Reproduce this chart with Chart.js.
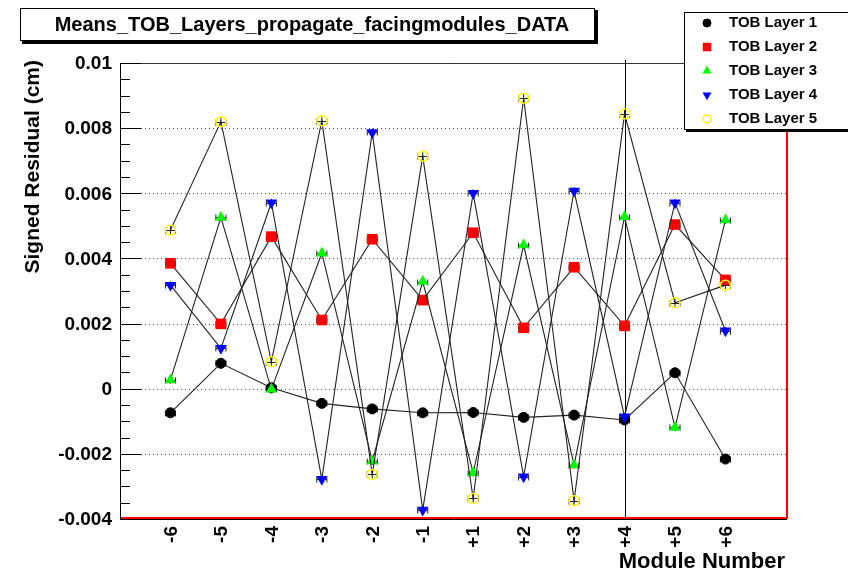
<!DOCTYPE html>
<html>
<head>
<meta charset="utf-8">
<script src="https://cdn.jsdelivr.net/npm/chart.js@4.4.1/dist/chart.umd.min.js"></script>
<style>
  html, body { margin: 0; padding: 0; background: #fff; }
  #wrap { width: 848px; height: 571px; }
</style>
</head>
<body>
<div id="wrap"><canvas id="myChart" width="848" height="571"></canvas></div>
<script>
// module labels along x
const modules = ['-6', '-5', '-4', '-3', '-2', '-1', '+1', '+2', '+3', '+4', '+5', '+6'];
const yTicks = [-0.004, -0.002, 0, 0.002, 0.004, 0.006, 0.008, 0.01];
const yTickLabels = ['-0.004', '-0.002', '0', '0.002', '0.004', '0.006', '0.008', '0.01'];

// means per layer
const layer1 = [-0.00074, 0.00078, 0.00003, -0.00045, -0.00062, -0.00074, -0.00073, -0.00088, -0.00081, -0.00096, 0.00049, -0.00216];
const layer2 = [0.00385, 0.00199, 0.00467, 0.00211, 0.00459, 0.00272, 0.00479, 0.00187, 0.00373, 0.00193, 0.00504, 0.00334];
const layer3 = [0.00027, 0.00526, -0.00002, 0.00416, -0.00222, 0.00329, -0.00258, 0.00441, -0.00234, 0.00528, -0.00119, 0.00518];
const layer4 = [0.00318, 0.00124, 0.00571, -0.00278, 0.00787, -0.00372, 0.00600, -0.00270, 0.00607, -0.00086, 0.00571, 0.00178];
const layer5 = [0.00487, 0.00820, 0.00083, 0.00823, -0.00263, 0.00714, -0.00337, 0.00892, -0.00344, 0.00844, 0.00264, 0.00318];

const layerNames = ['TOB Layer 1', 'TOB Layer 2', 'TOB Layer 3', 'TOB Layer 4', 'TOB Layer 5'];
const markerStyle = [
    { pointStyle: 'circle', rotation: 0, radius: 5, fill: '#000000', stroke: '#000000', bw: 1 },
    { pointStyle: 'rect', rotation: 0, radius: 7.5, fill: '#ff0000', stroke: '#ff0000', bw: 0 },
    { pointStyle: 'triangle', rotation: 0, radius: 6.5, fill: '#00ff00', stroke: '#00ff00', bw: 0 },
    { pointStyle: 'triangle', rotation: 180, radius: 6.5, fill: '#0000ff', stroke: '#0000ff', bw: 0 },
    { pointStyle: 'circle', rotation: 0, radius: 5, fill: 'rgba(0,0,0,0)', stroke: '#ffff00', bw: 1.5 }
];

const FONT = '"Liberation Sans", Arial, Helvetica, sans-serif';

function toPoints(arr) {
    return arr.map((v, i) => ({ x: i + 1, y: v }));
}

const allLayers = [layer1, layer2, layer3, layer4, layer5];
const datasets = allLayers.map((arr, k) => {
    const m = markerStyle[k];
    return {
        label: layerNames[k],
        data: toPoints(arr),
        borderColor: '#222222',
        borderWidth: 1.1,
        tension: 0,
        fill: false,
        pointStyle: m.pointStyle,
        pointRotation: m.rotation,
        pointRadius: m.radius,
        pointHoverRadius: m.radius,
        pointBackgroundColor: m.fill,
        pointBorderColor: m.stroke,
        pointBorderWidth: m.bw,
        order: 5 - k
    };
});

const rootPlugin = {
    id: 'rootStyle',
    beforeDraw(chart) {
        const ctx = chart.ctx;
        ctx.save();
        ctx.fillStyle = '#ffffff';
        ctx.fillRect(0, 0, chart.width, chart.height);
        ctx.restore();
    },
    beforeDatasetsDraw(chart) {
        const ctx = chart.ctx;
        const xs = chart.scales.x, ys = chart.scales.y;
        const a = chart.chartArea;
        ctx.save();
        // dotted grid
        ctx.strokeStyle = '#444';
        ctx.lineWidth = 1;
        ctx.setLineDash([1, 3]);
        yTicks.forEach(v => {
            if (v <= ys.min || v >= ys.max) return;
            const y = Math.round(ys.getPixelForValue(v)) + 0.5;
            ctx.beginPath();
            ctx.moveTo(a.left + 21, y);
            ctx.lineTo(a.right, y);
            ctx.stroke();
        });
        ctx.setLineDash([]);
        // vertical line at +4
        const x4 = Math.round(xs.getPixelForValue(10)) + 0.5;
        ctx.strokeStyle = '#000';
        ctx.beginPath();
        ctx.moveTo(x4, a.top - 3);
        ctx.lineTo(x4, a.bottom);
        ctx.stroke();
        // small error bars
        ctx.strokeStyle = '#222';
        allLayers.forEach(arr => {
            arr.forEach((v, i) => {
                const px = xs.getPixelForValue(i + 1);
                const py = Math.round(ys.getPixelForValue(v)) + 0.5;
                const x0 = xs.getPixelForValue(i + 1 - 0.1);
                const x1 = xs.getPixelForValue(i + 1 + 0.1);
                ctx.beginPath();
                ctx.moveTo(x0, py); ctx.lineTo(x1, py);
                ctx.moveTo(x0, py - 3); ctx.lineTo(x0, py + 3);
                ctx.moveTo(x1, py - 3); ctx.lineTo(x1, py + 3);
                ctx.moveTo(px, ys.getPixelForValue(v + 0.00012));
                ctx.lineTo(px, ys.getPixelForValue(v - 0.00012));
                ctx.stroke();
            });
        });
        ctx.restore();
    },
    afterDatasetsDraw(chart) {
        const ctx = chart.ctx;
        const xs = chart.scales.x, ys = chart.scales.y;
        const a = chart.chartArea;
        ctx.save();

        // frame: red bottom/right, black left/top
        ctx.lineWidth = 2;
        ctx.strokeStyle = '#ff0000';
        ctx.beginPath();
        ctx.moveTo(a.left, a.bottom - 1);
        ctx.lineTo(a.right, a.bottom - 1);
        ctx.lineTo(a.right, a.top);
        ctx.stroke();
        ctx.lineWidth = 1;
        ctx.strokeStyle = '#000';
        ctx.beginPath();
        ctx.moveTo(a.left, a.bottom + 0.5);
        ctx.lineTo(a.right, a.bottom + 0.5);
        ctx.stroke();
        ctx.strokeStyle = '#333';
        ctx.beginPath();
        ctx.moveTo(a.left, a.top + 0.5);
        ctx.lineTo(a.right, a.top + 0.5);
        ctx.stroke();
        ctx.strokeStyle = '#000';
        ctx.beginPath();
        ctx.moveTo(a.left + 0.5, a.top);
        ctx.lineTo(a.left + 0.5, a.bottom);
        ctx.stroke();

        // y ticks: major every 0.002, minor every 0.0005
        ctx.beginPath();
        for (let k = 0; k <= 28; k++) {
            const v = -0.004 + k * 0.0005;
            const y = Math.round(ys.getPixelForValue(v)) + 0.5;
            const len = (k % 4 === 0) ? 21 : 10;
            ctx.moveTo(a.left, y);
            ctx.lineTo(a.left + len, y);
        }
        ctx.stroke();

        // y tick labels
        ctx.fillStyle = '#000';
        ctx.font = 'bold 19px ' + FONT;
        ctx.textAlign = 'right';
        ctx.textBaseline = 'middle';
        yTicks.forEach((v, i) => {
            ctx.fillText(yTickLabels[i], 112, ys.getPixelForValue(v) + 1);
        });

        // x tick labels, rotated
        modules.forEach((lab, i) => {
            const x = xs.getPixelForValue(i + 1);
            ctx.save();
            ctx.translate(x + 1, 526);
            ctx.rotate(-Math.PI / 2);
            ctx.textAlign = 'right';
            ctx.textBaseline = 'middle';
            ctx.fillText(lab, 0, 0);
            ctx.restore();
        });

        // axis titles
        ctx.font = 'bold 22px ' + FONT;
        ctx.textAlign = 'right';
        ctx.textBaseline = 'alphabetic';
        ctx.fillText('Module Number', 785, 568);

        ctx.save();
        ctx.font = 'bold 21px ' + FONT;
        ctx.translate(39, 60);
        ctx.rotate(-Math.PI / 2);
        ctx.textAlign = 'right';
        ctx.textBaseline = 'alphabetic';
        ctx.fillText('Signed Residual (cm)', 0, 0);
        ctx.restore();

        // title box with shadow
        ctx.fillStyle = '#000';
        ctx.fillRect(22, 10, 576, 34);
        ctx.fillStyle = '#fff';
        ctx.fillRect(20, 8, 575, 33);
        ctx.strokeStyle = '#000';
        ctx.lineWidth = 1;
        ctx.strokeRect(20.5, 8.5, 574, 32);
        ctx.fillStyle = '#000';
        ctx.font = 'bold 20px ' + FONT;
        ctx.textAlign = 'center';
        ctx.textBaseline = 'middle';
        ctx.fillText('Means_TOB_Layers_propagate_facingmodules_DATA', 312, 25);

        // legend box
        ctx.fillStyle = '#000';
        ctx.fillRect(686, 14, 170, 118);
        ctx.fillStyle = '#fff';
        ctx.fillRect(684, 12, 170, 118);
        ctx.strokeStyle = '#000';
        ctx.strokeRect(684.5, 12.5, 170, 117);
        layerNames.forEach((name, k) => {
            const m = markerStyle[k];
            const y = 23 + k * 24;
            ctx.save();
            ctx.fillStyle = m.fill;
            ctx.strokeStyle = m.stroke;
            ctx.lineWidth = m.bw;
            Chart.helpers.drawPoint(ctx, {
                pointStyle: m.pointStyle,
                rotation: m.rotation,
                radius: m.radius * 0.8,
                borderWidth: m.bw
            }, 707, y);
            ctx.restore();
            ctx.fillStyle = '#000';
            ctx.font = 'bold 15px ' + FONT;
            ctx.textAlign = 'left';
            ctx.textBaseline = 'middle';
            ctx.fillText(name, 729, y);
        });

        ctx.restore();
    }
};

const ctx = document.getElementById('myChart');
const myChart = new Chart(ctx, {
    type: 'line',
    data: { datasets: datasets },
    options: {
        responsive: false,
        animation: false,
        layout: { padding: { left: 120, top: 63, right: 61, bottom: 52 } },
        plugins: {
            legend: { display: false },
            tooltip: { enabled: false },
            title: { display: false }
        },
        scales: {
            x: { type: 'linear', min: 0, max: 13.22, display: false },
            y: { type: 'linear', min: -0.004, max: 0.01, display: false }
        }
    },
    plugins: [rootPlugin]
});
</script>
</body>
</html>
